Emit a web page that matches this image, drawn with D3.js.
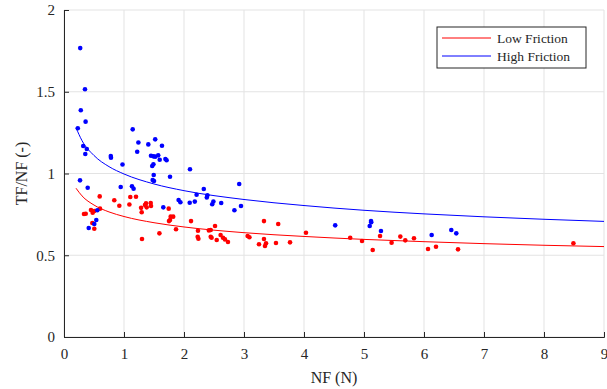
<!DOCTYPE html>
<html>
<head>
<meta charset="utf-8">
<script src="https://cdn.jsdelivr.net/npm/d3@7"></script>
<style>
  html, body { margin: 0; padding: 0; background: #fff; }
  svg text { font-family: "Liberation Serif", "Times New Roman", "DejaVu Serif", serif !important; }
</style>
</head>
<body>
<div id="chart"></div>
<script>
// measured points, [NF, TF/NF]
const highFriction = [
  [0.27, 1.767], [0.35, 1.515], [0.28, 1.387], [0.36, 1.317], [0.23, 1.277],
  [1.145, 1.27], [0.32, 1.168], [0.38, 1.15], [0.355, 1.119], [0.78, 1.107],
  [0.783, 1.097], [1.24, 1.19], [1.22, 1.133], [1.405, 1.178], [1.52, 1.209],
  [1.633, 1.17], [1.45, 1.109], [1.49, 1.105], [1.52, 1.103], [1.57, 1.111],
  [1.595, 1.084], [1.69, 1.089], [1.71, 1.081], [1.49, 1.056], [1.47, 1.046],
  [0.975, 1.055], [2.1, 1.026], [1.495, 0.991], [1.767, 0.98], [1.478, 0.96],
  [1.5, 0.954], [0.945, 0.917], [1.133, 0.922], [1.16, 0.907], [1.91, 0.838],
  [1.94, 0.824], [2.095, 0.821], [2.18, 0.828], [2.21, 0.87], [2.33, 0.905],
  [2.39, 0.867], [2.38, 0.853], [2.49, 0.828], [2.47, 0.812], [2.62, 0.82],
  [2.92, 0.936], [2.95, 0.801], [2.84, 0.775], [0.267, 0.958], [0.395, 0.913],
  [0.555, 0.775], [0.538, 0.716], [0.505, 0.691], [0.412, 0.667], [1.655, 0.793],
  [4.52, 0.683], [5.117, 0.709], [5.12, 0.702], [5.095, 0.679], [5.283, 0.648],
  [6.128, 0.624], [6.455, 0.654], [6.538, 0.634]
];

const lowFriction = [
  [0.595, 0.86], [0.838, 0.836], [0.922, 0.803], [1.105, 0.856], [1.2, 0.858],
  [1.09, 0.81], [1.285, 0.79], [1.35, 0.807], [1.378, 0.793], [1.367, 0.818],
  [1.445, 0.82], [1.45, 0.801], [1.295, 0.763], [1.745, 0.785], [1.778, 0.736],
  [1.82, 0.736], [1.767, 0.716], [1.75, 0.709], [2.117, 0.709], [1.59, 0.634],
  [1.867, 0.659], [1.3, 0.599], [2.233, 0.65], [2.228, 0.613], [2.24, 0.601],
  [2.415, 0.652], [2.445, 0.654], [2.445, 0.613], [2.46, 0.607], [2.517, 0.679],
  [2.545, 0.593], [2.61, 0.624], [2.65, 0.607], [2.683, 0.597], [2.733, 0.581],
  [3.06, 0.618], [3.09, 0.61], [3.333, 0.709], [3.57, 0.691], [3.333, 0.599],
  [3.25, 0.567], [3.35, 0.557], [3.367, 0.573], [3.533, 0.575], [3.767, 0.579],
  [4.033, 0.638], [4.77, 0.607], [4.967, 0.587], [5.145, 0.532], [5.267, 0.618],
  [5.46, 0.577], [5.605, 0.614], [5.688, 0.591], [5.833, 0.604], [6.067, 0.538],
  [6.2, 0.552], [6.567, 0.536], [8.49, 0.573],
  [0.45, 0.777], [0.505, 0.771], [0.478, 0.76], [0.6, 0.785], [0.333, 0.752],
  [0.362, 0.754], [0.472, 0.697], [0.505, 0.662]
];

// fitted curves, values
const fitX = [0.2, 0.3, 0.5, 0.75, 1, 1.5, 2, 3, 4, 5, 6, 7, 8, 9];
const fitLow = [0.91, 0.863, 0.807, 0.765, 0.737, 0.699, 0.673, 0.638, 0.615, 0.597, 0.583, 0.571, 0.561, 0.553];
const fitHigh = [1.28, 1.201, 1.11, 1.042, 0.997, 0.936, 0.895, 0.841, 0.804, 0.775, 0.753, 0.735, 0.72, 0.707];

const xTicks = [0, 1, 2, 3, 4, 5, 6, 7, 8, 9];
const yTicks = [0, 0.5, 1, 1.5, 2];

const W = 607, H = 389;
const margin = { top: 10, right: 3, bottom: 52, left: 64 };
const innerW = W - margin.left - margin.right;
const innerH = H - margin.top - margin.bottom;
const serif = '"Liberation Serif", "Times New Roman", "DejaVu Serif", serif';

const svg = d3.select('#chart').append('svg')
  .attr('width', W)
  .attr('height', H);

const g = svg.append('g')
  .attr('transform', `translate(${margin.left},${margin.top})`);

const x = d3.scaleLinear().domain([0, 9]).range([0, innerW]);
const y = d3.scaleLinear().domain([0, 2]).range([innerH, 0]);

// grid
g.append('g')
  .selectAll('line')
  .data(xTicks)
  .enter().append('line')
  .attr('x1', d => x(d)).attr('x2', d => x(d))
  .attr('y1', 0).attr('y2', innerH)
  .attr('stroke', '#e3e3e3').attr('stroke-width', 1);

g.append('g')
  .selectAll('line')
  .data(yTicks)
  .enter().append('line')
  .attr('x1', 0).attr('x2', innerW)
  .attr('y1', d => y(d)).attr('y2', d => y(d))
  .attr('stroke', '#e3e3e3').attr('stroke-width', 1);

// fit lines
const line = d3.line()
  .x(d => x(d[0]))
  .y(d => y(d[1]))
  .curve(d3.curveMonotoneX);

g.append('path')
  .datum(fitX.map((v, i) => [v, fitLow[i]]))
  .attr('d', line)
  .attr('fill', 'none')
  .attr('stroke', '#ff0000')
  .attr('stroke-width', 1);

g.append('path')
  .datum(fitX.map((v, i) => [v, fitHigh[i]]))
  .attr('d', line)
  .attr('fill', 'none')
  .attr('stroke', '#0000ff')
  .attr('stroke-width', 1);

// points
g.selectAll('.pt-low')
  .data(lowFriction)
  .enter().append('circle')
  .attr('class', 'pt-low')
  .attr('cx', d => x(d[0]))
  .attr('cy', d => y(d[1]))
  .attr('r', 2.3)
  .attr('fill', '#ff0000');

g.selectAll('.pt-high')
  .data(highFriction)
  .enter().append('circle')
  .attr('class', 'pt-high')
  .attr('cx', d => x(d[0]))
  .attr('cy', d => y(d[1]))
  .attr('r', 2.3)
  .attr('fill', '#0000ff');

// axes
const xAxis = g.append('g')
  .attr('transform', `translate(0,${innerH})`)
  .call(d3.axisBottom(x).tickValues(xTicks).tickSize(-5).tickPadding(11).tickFormat(d3.format('d')));

const yAxis = g.append('g')
  .call(d3.axisLeft(y).tickValues(yTicks).tickSize(-5).tickPadding(9).tickFormat(d => d));

[xAxis, yAxis].forEach(a => {
  a.attr('font-family', null);
  a.select('.domain').attr('stroke', '#262626').attr('stroke-width', 1);
  a.selectAll('.tick line').attr('stroke', '#262626');
  a.selectAll('.tick text')
    .attr('fill', '#262626')
    .style('font-size', '15px')
    .style('font-family', serif);
});

// axis labels
g.append('text')
  .attr('x', innerW / 2)
  .attr('y', innerH + 46)
  .attr('text-anchor', 'middle')
  .style('font-size', '16px')
  .style('font-family', serif)
  .attr('fill', '#262626')
  .text('NF (N)');

g.append('text')
  .attr('transform', 'rotate(-90)')
  .attr('x', -innerH / 2)
  .attr('y', -37)
  .attr('text-anchor', 'middle')
  .style('font-size', '16px')
  .style('font-family', serif)
  .attr('fill', '#262626')
  .text('TF/NF (-)');

// legend
const legend = svg.append('g')
  .attr('transform', 'translate(437,27)');

legend.append('rect')
  .attr('width', 149)
  .attr('height', 41)
  .attr('fill', '#fff')
  .attr('stroke', '#262626')
  .attr('stroke-width', 1);

const legendItems = [
  { name: 'Low Friction', color: '#ff0000' },
  { name: 'High Friction', color: '#0000ff' }
];

const li = legend.selectAll('.legend-item')
  .data(legendItems)
  .enter().append('g')
  .attr('class', 'legend-item')
  .attr('transform', (d, i) => `translate(0,${11 + i * 18})`);

li.append('line')
  .attr('x1', 5).attr('x2', 54)
  .attr('y1', 0).attr('y2', 0)
  .attr('stroke', d => d.color)
  .attr('stroke-width', 1);

li.append('text')
  .attr('x', 60)
  .attr('y', 4.5)
  .style('font-size', '13.5px')
  .style('font-family', serif)
  .attr('fill', '#262626')
  .text(d => d.name);
</script>
</body>
</html>
